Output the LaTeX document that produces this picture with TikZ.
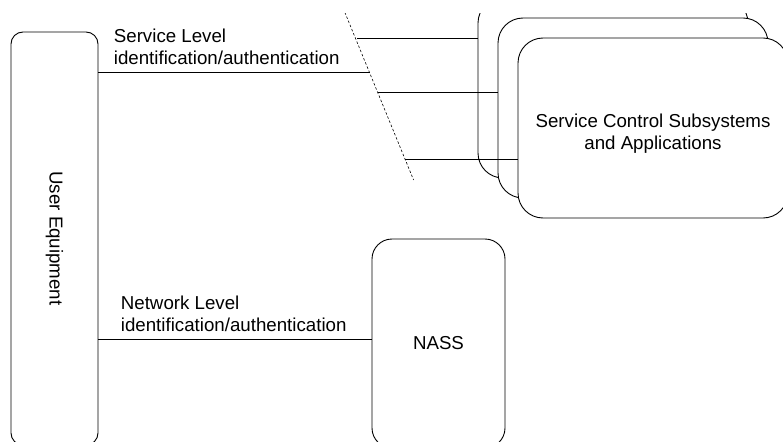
\documentclass[tikz,border=0pt]{standalone}
\usepackage{fontspec}
\setmainfont{Liberation Sans}
\begin{document}
\begin{tikzpicture}[x=1pt, y=-1pt,
  font=\fontsize{18.7}{22}\selectfont,
  line width=0.9pt,
  box/.style={draw, rounded corners=#1, inner sep=0pt, fill=white},
  box/.default=25pt,
  cut/.style={line width=0.6pt, dash pattern=on 2.5pt off 2pt},
  level/.style={anchor=south west, align=left, inner sep=0pt}]
  \useasboundingbox (0,0) rectangle (783,441);
  \clip (0,14) rectangle (783,441);

  \node[box=12pt, minimum width=87pt, minimum height=413pt] (ue) at (54.5,238.5) {};
  \node[rotate=-90] at (ue.center) {User Equipment};
  \node[box, minimum width=270pt, minimum height=180pt] (sc1) at (613,88) {};
  \node[box, minimum width=270pt, minimum height=180pt] (sc2) at (633,108) {};
  \node[box, minimum width=270pt, minimum height=180pt] (sc3) at (653,128) {};
  \node[align=center] at ([yshift=-6pt]sc3.center) {Service Control Subsystems\\and Applications};
  \node[box=20pt, minimum width=133pt, minimum height=209pt] (nass) at (438.5,343.5) {NASS};

  \coordinate (cutT) at (341.4,4);
  \coordinate (cutB) at (413.6,180);
  \draw[cut] (cutT) -- (cutB);
  \coordinate (cut0) at (370,72);
  \coordinate (cut1) at (357,38);
  \coordinate (cut2) at (378,92);
  \coordinate (cut3) at (404.5,159);

  \draw (ue.east |- cut0) -- (cut0)
    node[level, pos=0, xshift=15pt, yshift=7pt] {Service Level\\identification/authentication};
  \draw (cut1) -- (sc1.west |- cut1);
  \draw (cut2) -- (sc2.west |- cut2);
  \draw (cut3) -- (sc3.west |- cut3);
  \draw ([yshift=4.5pt]nass.west) -- ([yshift=4.5pt]nass.west -| ue.east)
    node[level, pos=1, xshift=22pt, yshift=7pt] {Network Level\\identification/authentication};
\end{tikzpicture}
\end{document}
